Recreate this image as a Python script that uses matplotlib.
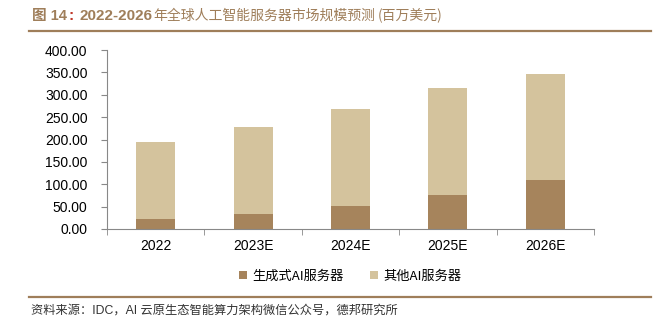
import numpy as np
import matplotlib.pyplot as plt
from matplotlib.lines import Line2D

plt.rcParams['font.family'] = ['Liberation Sans', 'Noto Sans CJK SC', 'DejaVu Sans']

years = ['2022', '2023E', '2024E', '2025E', '2026E']
gen_ai = [22, 34, 51, 76, 109]        # 生成式AI服务器
other_ai = [173, 194, 217, 239, 238]  # 其他AI服务器

c_gen = '#A6845C'
c_other = '#D4C39D'
c_brown = '#9F7E5A'

fig = plt.figure(figsize=(6.58, 3.36), dpi=100)
ax = fig.add_axes([107/658, 1-229/336, (594-107)/658, (229-50)/336])

x = np.arange(len(years))
ax.bar(x, gen_ai, width=0.4, color=c_gen, label='生成式AI服务器')
ax.bar(x, other_ai, width=0.4, bottom=gen_ai, color=c_other, label='其他AI服务器')

ax.set_xlim(-0.5, len(years)-0.5)
ax.set_ylim(0, 400)
ax.set_yticks(np.arange(0, 401, 50))
ax.set_yticklabels(['%.2f' % v for v in np.arange(0, 401, 50)], fontsize=10)
ax.set_xticks(x)
ax.set_xticklabels(years, fontsize=10)
ax.tick_params(axis='x', length=0, pad=7)
ax.set_xticks(np.arange(-0.5, len(years), 1), minor=True)
ax.tick_params(axis='x', which='minor', length=4, color='#888888')
ax.tick_params(axis='y', length=4, color='#888888', pad=10)
for s in ['top', 'right']:
    ax.spines[s].set_visible(False)
for s in ['left', 'bottom']:
    ax.spines[s].set_color('#888888')
    ax.spines[s].set_linewidth(0.8)

ax.legend(loc='upper center', bbox_to_anchor=(0.5, -0.16), ncol=2, frameon=False,
          handlelength=0.6, handleheight=0.6, handletextpad=0.4,
          columnspacing=2.0, prop={'family': ['Noto Sans CJK SC'], 'size': 9.5})

# 标题
ty = 1 - 16/336
fig.text(32/658, ty, '图 14', fontsize=10.5, fontweight='bold', color=c_brown,
         va='center', family=['Liberation Sans', 'Noto Sans CJK SC'])
fig.text(69/658, ty, ':', fontsize=11, fontweight='bold', color='#C0392B',
         va='center', family=['Liberation Sans'])
fig.text(79/658, ty, '2022-2026', fontsize=11, fontweight='bold', color=c_brown,
         va='center', family=['Liberation Sans'])
fig.text(153/658, ty, '年全球人工智能服务器市场规模预测', fontsize=10,
         fontweight='medium', color=c_brown, va='center',
         family=['Noto Sans CJK SC'])
fig.text(378/658, ty, '(百万美元)', fontsize=10,
         fontweight='medium', color=c_brown, va='center',
         family=['Noto Sans CJK SC'])
fig.add_artist(Line2D([29/658, 651/658], [1-30.5/336, 1-30.5/336], color=c_brown, lw=1.6))

# 来源
fig.add_artist(Line2D([29/658, 651/658], [1-297/336, 1-297/336], color=c_brown, lw=1.6))
fig.text(31/658, 1-311/336, '资料来源：IDC，AI 云原生态智能算力架构微信公众号，德邦研究所',
         fontsize=8.8, color='#333333', va='center',
         family=['Liberation Sans', 'Noto Sans CJK SC'])

fig.savefig('out.png', dpi=100)
